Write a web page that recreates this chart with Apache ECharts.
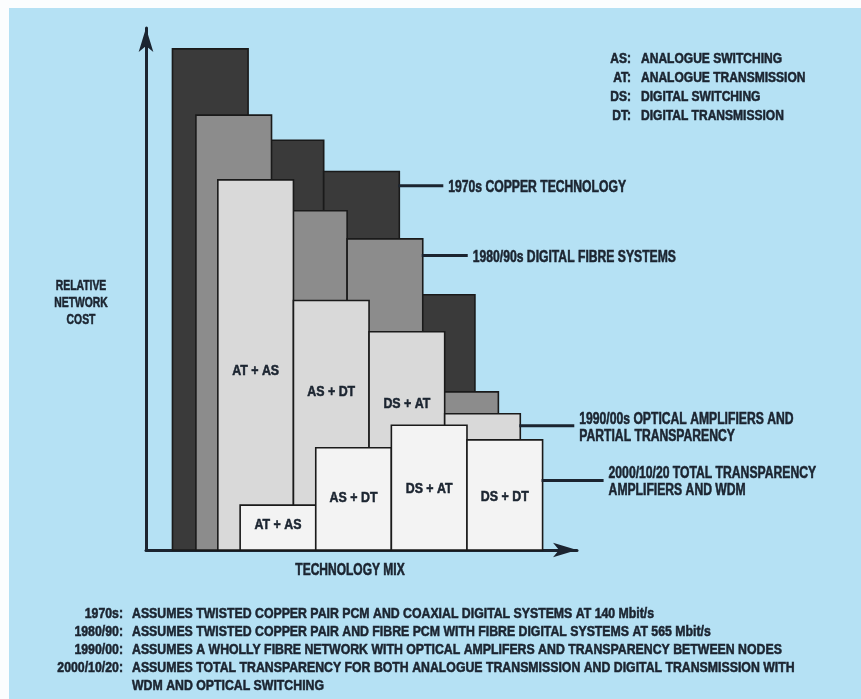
<!DOCTYPE html>
<html><head><meta charset="utf-8">
<script src="https://cdn.jsdelivr.net/npm/echarts@6/dist/echarts.min.js"></script>
<style>html,body{margin:0;padding:0;background:#fff}#c{width:861px;height:699px}</style>
</head><body><div id="c"></div>
<script>
// ---- data ----
const seriesNames = [
  '1970s COPPER TECHNOLOGY',
  '1980/90s DIGITAL FIBRE SYSTEMS',
  '1990/00s OPTICAL AMPLIFIERS AND\nPARTIAL TRANSPARENCY',
  '2000/10/20 TOTAL TRANSPARENCY\nAMPLIFIERS AND WDM'
];
const seriesStart = [0.35, 0.66, 0.95, 1.245];   // technology-mix position of each era's first bar
const copper1970 = [96.0, 78.5, 72.5, 48.9];
const digitalFibre1980 = [83.3, 65.0, 59.6, 30.3];
const opticalAmp1990 = [70.9, 47.8, 41.8, 26.1];
const totalTransparency2000 = [8.6, 19.6, 23.9, 21.1];
const barLabels1990 = ['AT + AS', 'AS + DT', 'DS + AT', ''];
const barLabels2000 = ['AT + AS', 'AS + DT', 'DS + AT', 'DS + DT'];
const labelHeights1990 = [34.3, 30.3, 28.0, 0];
const labelHeights2000 = [4.8, 10.0, 11.7, 10.2];
const annotationBar = [2, 2, 3, 3];
const annotationHeight = [69.8, 56.4, 23.8, 13.3];
const xAxisTitle = 'TECHNOLOGY MIX';
const yAxisTitle = 'RELATIVE\nNETWORK\nCOST';
const abbreviations = ['AS:', 'AT:', 'DS:', 'DT:'];
const meanings = ['ANALOGUE SWITCHING', 'ANALOGUE TRANSMISSION', 'DIGITAL SWITCHING', 'DIGITAL TRANSMISSION'];
const noteYears = ['1970s:', '1980/90:', '1990/00:', '2000/10/20:', ''];
const notes = [
  'ASSUMES TWISTED COPPER PAIR PCM AND COAXIAL DIGITAL SYSTEMS AT 140 Mbit/s',
  'ASSUMES TWISTED COPPER PAIR AND FIBRE PCM WITH FIBRE DIGITAL SYSTEMS AT 565 Mbit/s',
  'ASSUMES A WHOLLY FIBRE NETWORK WITH OPTICAL AMPLIFERS AND TRANSPARENCY BETWEEN NODES',
  'ASSUMES TOTAL TRANSPARENCY FOR BOTH ANALOGUE TRANSMISSION AND DIGITAL TRANSMISSION WITH',
  'WDM AND OPTICAL SWITCHING'
];

// ---- styles ----
const FONT = "'Liberation Sans', Arial, sans-serif";
const INK = '#1b2430';
const fills = ['#3a3a3a', '#8c8c8c', '#d9d9d9', '#f3f3f3'];
const leaderLen = [44, 45, 54, 61];
function txt(text, size, align, extra) {
  return Object.assign({ text: text, fill: INK, stroke: INK, lineWidth: 0.55, font: 'bold ' + size + 'px ' + FONT, align: align, verticalAlign: 'middle' }, extra || {});
}

function makeSeries(si, values, labels, labelHeights) {
  return {
    type: 'custom',
    name: seriesNames[si],
    clip: false,
    data: values.map((v, i) => [seriesStart[si] + i, v]),
    renderItem: function (params, api) {
      const i = params.dataIndex;
      const x0 = api.value(0), v = api.value(1);
      const p0 = api.coord([x0, v]);
      const p1 = api.coord([x0 + 1, 0]);
      const children = [{
        type: 'rect',
        shape: { x: p0[0], y: p0[1], width: p1[0] - p0[0], height: p1[1] - p0[1] },
        style: { fill: fills[si], stroke: '#1a1a1a', lineWidth: 1.6 }
      }];
      if (labels && labels[i]) {
        const lp = api.coord([x0 + 0.5, labelHeights[i]]);
        children.push({ type: 'text', x: lp[0], y: lp[1], scaleX: 0.8, style: txt(labels[i], 15.5, 'center') });
      }
      if (i === annotationBar[si]) {
        const ap = api.coord([x0 + 1, annotationHeight[si]]);
        children.push({
          type: 'line',
          shape: { x1: ap[0] - 1, y1: ap[1], x2: ap[0] + leaderLen[si], y2: ap[1] },
          style: { stroke: INK, lineWidth: 3 }
        });
        children.push({ type: 'text', x: ap[0] + leaderLen[si] + 5, y: ap[1] + 2, scaleX: 0.76, style: txt(seriesNames[si], 16, 'left', { lineHeight: 17 }) });
      }
      return { type: 'group', children: children };
    }
  };
}

const graphics = [
  { type: 'rect', shape: { x: 0, y: 0, width: 861, height: 8 }, style: { fill: '#fbfdfe' }, silent: true },
  { type: 'rect', shape: { x: 0, y: 0, width: 9, height: 699 }, style: { fill: '#fbfdfe' }, silent: true },
  { type: 'text', x: 350, y: 571, scaleX: 0.75, style: txt(xAxisTitle, 16, 'center') },
  { type: 'text', x: 81, y: 303, scaleX: 0.74, style: txt(yAxisTitle, 14, 'center', { lineHeight: 17 }) }
];
abbreviations.forEach((a, k) => {
  graphics.push({ type: 'text', x: 631, y: 59 + 19 * k, scaleX: 0.83, style: txt(a, 14.5, 'right') });
  graphics.push({ type: 'text', x: 641, y: 59 + 19 * k, scaleX: 0.83, style: txt(meanings[k], 14.5, 'left') });
});
noteYears.forEach((yTxt, k) => {
  if (yTxt) graphics.push({ type: 'text', x: 123, y: 614 + 18 * k, scaleX: 0.82, style: txt(yTxt, 15, 'right') });
  graphics.push({ type: 'text', x: 132, y: 614 + 18 * k, scaleX: 0.82, style: txt(notes[k], 15, 'left') });
});

const chart = echarts.init(document.getElementById('c'), null, { renderer: 'canvas' });
chart.setOption({
  backgroundColor: '#b5e1f4',
  animation: false,
  grid: { left: 146, top: 28, width: 431, height: 522 },
  xAxis: {
    type: 'value', min: 0, max: 5.7,
    axisLine: { show: true, symbol: ['none', 'arrow'], symbolSize: [11, 24], lineStyle: { color: INK, width: 3 } },
    axisTick: { show: false }, axisLabel: { show: false }, splitLine: { show: false }
  },
  yAxis: {
    type: 'value', min: 0, max: 100,
    axisLine: { show: true, symbol: ['none', 'arrow'], symbolSize: [11, 24], lineStyle: { color: INK, width: 3 } },
    axisTick: { show: false }, axisLabel: { show: false }, splitLine: { show: false }
  },
  graphic: graphics,
  series: [
    makeSeries(0, copper1970, null, null),
    makeSeries(1, digitalFibre1980, null, null),
    makeSeries(2, opticalAmp1990, barLabels1990, labelHeights1990),
    makeSeries(3, totalTransparency2000, barLabels2000, labelHeights2000)
  ]
});
</script></body></html>
